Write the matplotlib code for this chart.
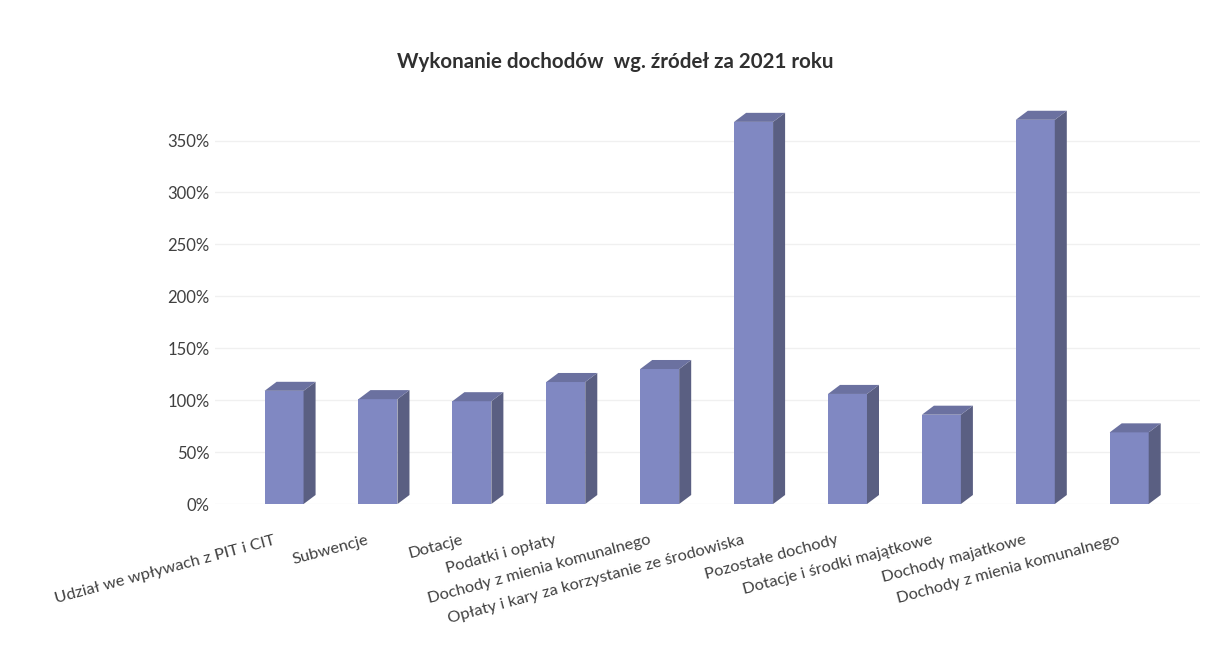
import numpy as np
import matplotlib
matplotlib.use('Agg')
import matplotlib.pyplot as plt
from matplotlib.patches import Polygon
from matplotlib.transforms import blended_transform_factory

plt.rcParams['font.family'] = ['Lato', 'DejaVu Sans']

title = 'Wykonanie dochodów  wg. źródeł za 2021 roku'
categories = [
    'Udział we wpływach z PIT i CIT',
    'Subwencje',
    'Dotacje',
    'Podatki i opłaty',
    'Dochody z mienia komunalnego',
    'Opłaty i kary za korzystanie ze środowiska',
    'Pozostałe dochody',
    'Dotacje i środki majątkowe',
    'Dochody majatkowe',
    'Dochody z mienia komunalnego',
]
values = [109, 101, 99, 117.5, 130, 368, 106, 86, 370, 69]
yticks = [0, 50, 100, 150, 200, 250, 300, 350]

front_col = '#8088c2'
side_col = '#5a5f82'
top_col = '#6b71a0'

fig = plt.figure(figsize=(12.31, 6.58), dpi=100)
ax = fig.add_axes([0.1747, 0.234, 0.8002, 0.6155])

x = np.arange(len(values))
w = 0.415
dx, dy = 0.128, 8.7  # depth of the fake 3d boxes (data units)

ax.bar(x, values, width=w, color=front_col, edgecolor='none', zorder=3)
for xi, v in zip(x, values):
    l, r = xi - w / 2, xi + w / 2
    side = Polygon([(r, 0), (r + dx, dy), (r + dx, v + dy), (r, v)],
                   closed=True, facecolor=side_col, edgecolor='none', zorder=3, clip_on=False)
    top = Polygon([(l, v), (l + dx, v + dy), (r + dx, v + dy), (r, v)],
                  closed=True, facecolor=top_col, edgecolor='none', zorder=3, clip_on=False)
    ax.add_patch(side)
    ax.add_patch(top)

ax.set_xlim(-0.735, 9.755)
ax.set_ylim(0, 390)
ax.set_yticks(yticks)
ax.set_yticklabels([f'{t}%' for t in yticks], fontsize=12, color='#404040')
ax.yaxis.grid(True, color='#f0f0f0', lw=1)
ax.set_axisbelow(True)
ax.tick_params(axis='y', length=0, pad=4)
ax.set_xticks([])
for s in ax.spines.values():
    s.set_visible(False)

trans = blended_transform_factory(ax.transData, ax.transAxes)
for xi, lab in zip(x, categories):
    ax.text(xi - 0.12, -0.072, lab, transform=trans, rotation=15,
            rotation_mode='anchor', ha='right', va='top', fontsize=11.8, color='#404040')

fig.text(0.4996, 1 - 62 / 658, title, ha='center', va='center',
         fontsize=14.8, fontweight='bold', color='#303030')

fig.savefig('out.png', dpi=100)
